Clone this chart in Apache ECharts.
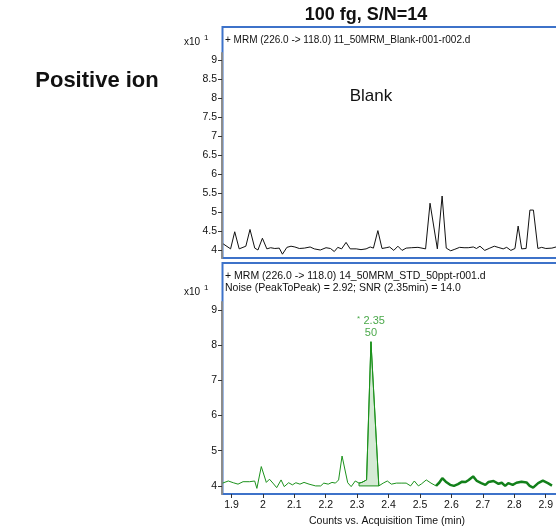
<!DOCTYPE html>
<html>
<head>
<meta charset="utf-8">
<script src="https://cdn.jsdelivr.net/npm/echarts@6/dist/echarts.min.js"></script>
<style>
  html, body { margin: 0; padding: 0; background: #fff; }
  #chart { width: 556px; height: 531px; }
</style>
</head>
<body>
<div id="chart"></div>
<script>
// Blank injection (top panel), counts in x10^1
const blankTime = [1.874, 1.897, 1.910, 1.924, 1.945, 1.958, 1.973, 1.983, 1.997, 2.011,
  2.023, 2.036, 2.050, 2.060, 2.074, 2.087, 2.099, 2.113, 2.129, 2.147,
  2.160, 2.179, 2.197, 2.211, 2.223, 2.234, 2.246, 2.260, 2.273, 2.292,
  2.307, 2.323, 2.336, 2.346, 2.360, 2.373, 2.386, 2.397, 2.410, 2.423,
  2.436, 2.449, 2.465, 2.486, 2.510, 2.524, 2.547, 2.562, 2.575,
  2.589, 2.602, 2.617, 2.631, 2.644, 2.660, 2.670, 2.681, 2.696, 2.712,
  2.726, 2.738, 2.754, 2.765, 2.778, 2.791, 2.801, 2.812, 2.826, 2.838,
  2.849, 2.863, 2.875, 2.888, 2.907, 2.920]
const blankCounts = [4.16, 4.03, 4.48, 4.03, 4.10, 4.54, 4.05, 4.00, 4.31, 4.03,
  4.06, 4.04, 4.05, 3.89, 4.07, 4.10, 4.08, 4.04, 4.05, 4.08,
  4.03, 4.00, 4.06, 4.04, 3.96, 4.07, 4.03, 4.20, 4.03, 4.03,
  4.01, 4.03, 4.08, 4.05, 4.51, 4.04, 4.06, 4.08, 3.99, 4.10,
  3.99, 4.05, 4.06, 4.07, 4.03, 5.23, 4.03, 5.42, 4.05,
  3.98, 4.02, 4.07, 4.06, 4.06, 4.08, 4.04, 4.10, 3.99, 4.05,
  4.10, 4.07, 4.03, 4.07, 3.99, 4.04, 4.63, 4.03, 4.04, 5.05,
  5.05, 4.04, 4.07, 4.04, 4.05, 4.08]

// 50 ppt standard (bottom panel)
const stdTime = [1.872, 1.890, 1.906, 1.921, 1.937, 1.958, 1.974, 1.981, 1.995, 2.011,
  2.021, 2.032, 2.044, 2.058, 2.068, 2.082, 2.094, 2.105, 2.118, 2.131,
  2.147, 2.168, 2.184, 2.194, 2.208, 2.220, 2.231, 2.241, 2.252, 2.270,
  2.281, 2.294, 2.306, 2.315, 2.330, 2.344, 2.369, 2.383, 2.396, 2.409,
  2.425, 2.440, 2.456, 2.470, 2.482, 2.495, 2.505, 2.520, 2.535, 2.551,
  2.561, 2.571, 2.582, 2.596, 2.608, 2.621, 2.634, 2.645, 2.655, 2.669,
  2.681, 2.695, 2.708, 2.718, 2.734, 2.750, 2.760, 2.771, 2.781, 2.795,
  2.807, 2.823, 2.839, 2.849, 2.860, 2.876, 2.891, 2.907, 2.920]
const stdCounts = [4.08, 4.14, 4.09, 4.05, 4.12, 4.12, 4.14, 3.93, 4.55, 4.10,
  4.19, 4.08, 3.95, 4.17, 3.98, 4.09, 4.03, 4.09, 4.05, 4.10,
  4.05, 4.00, 4.00, 4.08, 4.05, 4.10, 4.08, 4.17, 4.85, 4.09,
  3.98, 4.14, 4.08, 4.10, 4.17, 8.10, 4.00, 4.08, 4.14, 4.05,
  4.08, 4.08, 4.08, 4.00, 4.14, 4.00, 4.06, 4.17, 4.08, 4.00,
  4.09, 4.22, 4.12, 4.03, 4.00, 4.05, 4.12, 4.11, 4.17, 4.27,
  4.14, 4.08, 4.03, 4.11, 4.14, 4.06, 4.09, 4.00, 4.08, 4.03,
  4.09, 4.12, 4.10, 4.00, 3.95, 4.08, 4.15, 4.08, 4.01]

// integrated peak (baseline at 4.0)
const peakTime = [2.306, 2.306, 2.315, 2.330, 2.344, 2.369, 2.306]
const peakCounts = [4.00, 4.08, 4.10, 4.17, 8.10, 4.00, 4.00]
const peakRT = '2.35'
const peakArea = '50'

const timeTicks = [1.9, 2.0, 2.1, 2.2, 2.3, 2.4, 2.5, 2.6, 2.7, 2.8, 2.9]
const blankTicks = [4, 4.5, 5, 5.5, 6, 6.5, 7, 7.5, 8, 8.5, 9]
const stdTicks = [4, 5, 6, 7, 8, 9]

const FONT = "'Liberation Sans', Arial, sans-serif"
const BLUE = '#3d72c9'
const GREEN = '#1c921c'

const chart = echarts.init(document.getElementById('chart'))

const zip = (xs, ys) => xs.map((x, i) => [x, ys[i]])
const thickFrom = 2.55
const stdPoints = zip(stdTime, stdCounts)
const apexIdx = peakCounts.indexOf(Math.max(...peakCounts))

const yAxisBase = (gridIndex, min, max, ticks) => ({
  type: 'value',
  gridIndex,
  min,
  max,
  splitLine: { show: false },
  axisLine: { show: true, lineStyle: { color: '#8c8c8c', width: 2 } },
  axisTick: { show: true, length: 4, lineStyle: { color: '#333' }, customValues: ticks },
  axisLabel: { color: '#111', fontSize: 10.5, fontFamily: FONT, margin: 5, customValues: ticks,
    formatter: v => String(+v.toFixed(1)) }
})

const option = {
  animation: false,
  backgroundColor: '#fff',
  grid: [
    { left: 222, right: 0, top: 53, height: 205 },
    { left: 222, right: 0, top: 302, height: 192 }
  ],
  xAxis: [
    {
      type: 'value', gridIndex: 0, min: 1.87, max: 2.92,
      axisLine: { show: false }, axisTick: { show: false }, axisLabel: { show: false },
      splitLine: { show: false }
    },
    {
      type: 'value', gridIndex: 1, min: 1.87, max: 2.92,
      name: 'Counts vs. Acquisition Time (min)',
      nameLocation: 'middle',
      nameGap: 22,
      nameTextStyle: { color: '#111', fontSize: 10.5, fontFamily: FONT },
      axisLine: { show: false },
      axisTick: { show: true, length: 4, lineStyle: { color: '#333' }, customValues: timeTicks },
      axisLabel: { color: '#111', fontSize: 10.5, fontFamily: FONT, margin: 6, customValues: timeTicks,
        formatter: v => String(+v.toFixed(1)) },
      splitLine: { show: false }
    }
  ],
  yAxis: [
    yAxisBase(0, 3.79, 9.18, blankTicks),
    yAxisBase(1, 3.77, 9.23, stdTicks)
  ],
  series: [
    {
      name: 'Blank',
      type: 'line',
      xAxisIndex: 0, yAxisIndex: 0,
      data: zip(blankTime, blankCounts),
      showSymbol: false,
      lineStyle: { color: '#111', width: 1 }
    },
    {
      name: 'STD thin',
      type: 'line',
      xAxisIndex: 1, yAxisIndex: 1,
      data: stdPoints.filter(p => p[0] <= thickFrom + 0.015),
      showSymbol: false,
      lineStyle: { color: GREEN, width: 1 }
    },
    {
      name: 'STD thick',
      type: 'line',
      xAxisIndex: 1, yAxisIndex: 1,
      data: stdPoints.filter(p => p[0] >= thickFrom),
      showSymbol: false,
      lineStyle: { color: '#12801a', width: 2.5 }
    },
    {
      name: 'Peak',
      type: 'line',
      xAxisIndex: 1, yAxisIndex: 1,
      data: zip(peakTime, peakCounts),
      showSymbol: false,
      lineStyle: { color: GREEN, width: 1 },
      areaStyle: { color: 'rgba(40,150,40,0.28)', origin: 4 },
      z: 3
    },
    {
      name: 'Peak label',
      type: 'scatter',
      xAxisIndex: 1, yAxisIndex: 1,
      data: [[peakTime[apexIdx], peakCounts[apexIdx]]],
      symbolSize: 1,
      itemStyle: { color: 'transparent' },
      label: {
        show: true, position: 'top', distance: 2,
        formatter: '{s|*} {t|' + peakRT + '}\n{t|' + peakArea + '}',
        rich: {
          s: { fontSize: 8, color: GREEN, fontFamily: FONT, verticalAlign: 'top' },
          t: { fontSize: 11, color: GREEN, fontFamily: FONT, lineHeight: 12 }
        }
      },
      z: 4
    }
  ],
  graphic: [
    { type: 'rect', shape: { x: 222.5, y: 27, width: 360, height: 231 },
      style: { fill: 'none', stroke: BLUE, lineWidth: 2 }, z: -1 },
    { type: 'rect', shape: { x: 222.5, y: 263, width: 360, height: 231 },
      style: { fill: 'none', stroke: BLUE, lineWidth: 2 }, z: -1 },
    { type: 'text', x: 97, y: 81,
      style: { text: 'Positive ion', font: 'bold 22px ' + FONT, fill: '#111',
        textAlign: 'center', textVerticalAlign: 'middle' } },
    { type: 'text', x: 366, y: 15,
      style: { text: '100 fg, S/N=14', font: 'bold 18px ' + FONT, fill: '#111',
        textAlign: 'center', textVerticalAlign: 'middle' } },
    { type: 'text', x: 225, y: 40,
      style: { text: '+ MRM (226.0 -> 118.0) 11_50MRM_Blank-r001-r002.d', font: '10px ' + FONT,
        fill: '#111', textVerticalAlign: 'middle' } },
    { type: 'text', x: 371, y: 96,
      style: { text: 'Blank', font: '17px ' + FONT, fill: '#111',
        textAlign: 'center', textVerticalAlign: 'middle' } },
    { type: 'text', x: 225, y: 276,
      style: { text: '+ MRM (226.0 -> 118.0) 14_50MRM_STD_50ppt-r001.d', font: '10.5px ' + FONT,
        fill: '#111', textVerticalAlign: 'middle' } },
    { type: 'text', x: 225, y: 288,
      style: { text: 'Noise (PeakToPeak) = 2.92; SNR (2.35min) = 14.0', font: '10.5px ' + FONT,
        fill: '#111', textVerticalAlign: 'middle' } },
    { type: 'text', x: 200, y: 42,
      style: { text: 'x10', font: '10px ' + FONT, fill: '#111', textAlign: 'right', textVerticalAlign: 'middle' } },
    { type: 'text', x: 204, y: 38,
      style: { text: '1', font: '8px ' + FONT, fill: '#111', textVerticalAlign: 'middle' } },
    { type: 'text', x: 200, y: 292,
      style: { text: 'x10', font: '10px ' + FONT, fill: '#111', textAlign: 'right', textVerticalAlign: 'middle' } },
    { type: 'text', x: 204, y: 288,
      style: { text: '1', font: '8px ' + FONT, fill: '#111', textVerticalAlign: 'middle' } }
  ]
}

chart.setOption(option)
window.addEventListener('resize', () => chart.resize())
</script>
</body>
</html>
